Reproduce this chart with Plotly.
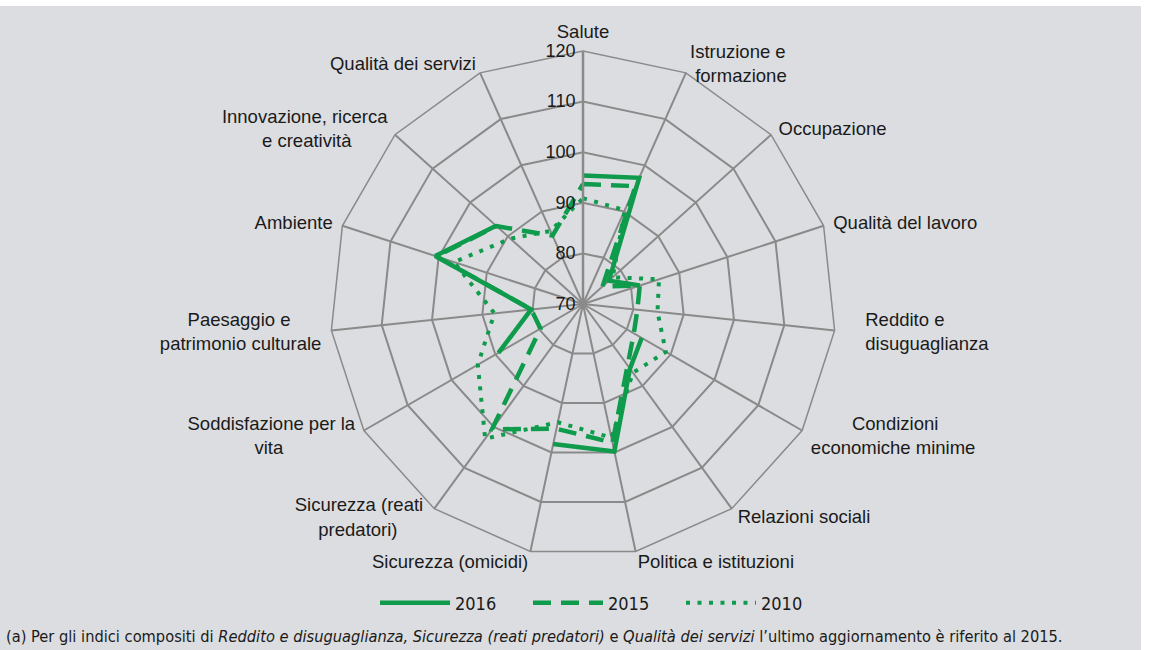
import plotly.graph_objects as go

NB = "\u00a0"

categories = ["Salute", "Istruzione e formazione", "Occupazione", "Qualità del lavoro",
              "Reddito e disuguaglianza", "Condizioni economiche minime", "Relazioni sociali",
              "Politica e istituzioni", "Sicurezza (omicidi)", "Sicurezza (reati predatori)",
              "Soddisfazione per la vita", "Paesaggio e patrimonio culturale", "Ambiente",
              "Innovazione, ricerca e creatività", "Qualità dei servizi"]

category_labels = ["Salute",
                   "Istruzione e<br>" + NB + "formazione",
                   "Occupazione",
                   "Qualità del lavoro",
                   NB * 4 + "Reddito e<br>" + NB * 4 + "disuguaglianza",
                   NB * 8 + "Condizioni<br>economiche minime",
                   "Relazioni sociali",
                   "Politica e istituzioni",
                   "Sicurezza (omicidi)",
                   "Sicurezza (reati" + NB + "<br>predatori)" + NB * 6,
                   "Soddisfazione per la<br>vita" + NB * 14,
                   "Paesaggio e" + NB * 6 + "<br>patrimonio culturale",
                   "Ambiente",
                   "Innovazione, ricerca<br>e creatività" + NB * 7,
                   "Qualità dei servizi"]

v2016 = [95.4, 97.3, 76.9, 81.8, None, 83.4, 85.8, 99.8, 98.3, None, 89.3, 80.3, 100.7, 93.1, None]
v2015 = [93.7, 95.5, 75.2, 81.8, 80.8, 81.6, 85.0, 98.0, 95.2, 100.6, 79.7, 80.3, 100.5, 93.0, 84.8]
v2010 = [90.9, 90.3, 77.9, 85.8, 84.8, 88.9, 86.8, 97.0, 93.9, 102.9, 94.0, 87.6, 96.8, 89.3, 85.8]

radial_ticks = [70, 80, 90, 100, 110, 120]

GREEN = "#0f9b4c"
GRID = "#8a8a8a"
BG = "#dcdde0"
W, H = 1149, 650
NARROW = "Liberation Sans Narrow, DejaVu Sans Condensed, Arial Narrow, sans-serif"
RMIN, RMAX = 70, 120
LABEL_R = 122      # radius (axis units) where category labels sit
LABEL_RMAX = 125   # range of the invisible label subplot

def closed(v):
    return v + [v[0]]

theta = closed(categories)

fig = go.Figure()
fig.add_trace(go.Scatterpolar(r=closed(v2016), theta=theta, mode="lines", name="2016",
                              connectgaps=False,
                              line=dict(color=GREEN, width=4.5)))
fig.add_trace(go.Scatterpolar(r=closed(v2015), theta=theta, mode="lines", name="2015",
                              line=dict(color=GREEN, width=4.5, dash="18px,10px")))
fig.add_trace(go.Scatterpolar(r=closed(v2010), theta=theta, mode="lines", name="2010",
                              line=dict(color=GREEN, width=4, dash="4px,7.5px")))

# category labels placed just outside the outer ring, Excel-like (on an invisible twin subplot)
n = len(categories)
positions = []
for i in range(n):
    ang = 360.0 * i / n
    if i == 0:
        positions.append("top center")
    elif ang < 180:
        positions.append("middle right")
    else:
        positions.append("middle left")
fig.add_trace(go.Scatterpolar(r=[LABEL_R] * n, theta=categories, mode="text", text=category_labels,
                              textposition=positions, textfont=dict(size=18.5, color="#1a1a1a"),
                              cliponaxis=False, showlegend=False, hoverinfo="skip", subplot="polar2"))

cx, cy, R = 583, 304, 253
cy2 = cy + 2
R2 = R * (LABEL_RMAX - RMIN) / (RMAX - RMIN)
fig.update_layout(
    width=W, height=H,
    margin=dict(l=0, r=0, t=0, b=0),
    paper_bgcolor="white",
    font=dict(family="Liberation Sans, Arial, sans-serif", size=18, color="#1a1a1a"),
    shapes=[dict(type="rect", xref="paper", yref="paper", x0=0, x1=1141 / W, y0=0, y1=(H - 6) / H,
                 fillcolor=BG, line=dict(width=0), layer="below")],
    polar=dict(
        domain=dict(x=[(cx - R) / W, (cx + R) / W], y=[(H - cy - R) / H, (H - cy + R) / H]),
        bgcolor="rgba(0,0,0,0)",
        gridshape="linear",
        angularaxis=dict(rotation=90, direction="clockwise", showticklabels=False,
                         linecolor=GRID, linewidth=1.5, gridcolor=GRID, gridwidth=1.5,
                         ticks="", showline=True),
        radialaxis=dict(range=[RMIN, RMAX], tickvals=radial_ticks, angle=90, side="counterclockwise",
                        tickangle=90, tickfont=dict(size=18), ticks="", showline=True, linecolor=GRID,
                        linewidth=2.5, gridcolor=GRID, gridwidth=1.5),
    ),
    polar2=dict(
        domain=dict(x=[(cx - R2) / W, (cx + R2) / W], y=[(H - cy2 - R2) / H, (H - cy2 + R2) / H]),
        bgcolor="rgba(0,0,0,0)",
        gridshape="linear",
        angularaxis=dict(rotation=90, direction="clockwise", showticklabels=False, showgrid=False,
                         showline=False, ticks="", categoryorder="array", categoryarray=categories),
        radialaxis=dict(range=[RMIN, LABEL_RMAX], visible=False, showgrid=False, showline=False),
    ),
    legend=dict(orientation="h", x=375 / W, xanchor="left", y=(H - 603) / H, yanchor="middle",
                bgcolor="rgba(0,0,0,0)", font=dict(size=18, family=NARROW),
                itemwidth=70, entrywidth=68, entrywidthmode="pixels"),
    annotations=[dict(xref="paper", yref="paper", x=4 / W, y=(H - 636) / H, xanchor="left", yanchor="middle",
                      showarrow=False,
                      text="(a) Per gli indici compositi di <i>Reddito e disuguaglianza, Sicurezza (reati predatori)</i> e <i>Qualità dei servizi</i> l’ultimo aggiornamento è riferito al 2015.",
                      font=dict(size=16.3, family=NARROW))],
)

fig.write_html("out.html", config={"displayModeBar": False},
               post_script="document.body.style.margin='0px';document.body.style.overflow='hidden';")
